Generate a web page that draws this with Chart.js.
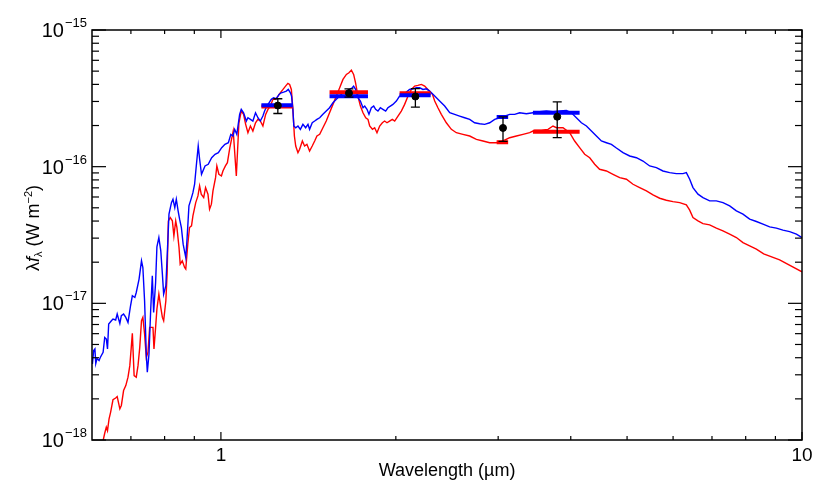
<!DOCTYPE html>
<html lang="en">
<head>
    <meta charset="UTF-8">
    <title>Spectral energy distribution</title>
    <script src="https://cdn.jsdelivr.net/npm/chart.js"></script>
    <style>
        body {
            margin: 0;
            background-color: white;
        }
        #wrap {
            width: 830px;
            height: 499px;
        }
    </style>
</head>
<body>
    <div id="wrap"><canvas id="sedChart" width="830" height="499"></canvas></div>

    <script>
        // model spectra: wavelength in um, flux in units of 1e-16 W m^-2
        const blueLam = [
            0.600,0.601,0.604,0.607,0.609,0.612,0.617,0.620,0.627,0.631,
            0.635,0.638,0.641,0.648,0.652,0.659,0.663,0.670,0.674,0.680,
            0.686,0.692,0.699,0.704,0.711,0.715,0.723,0.730,0.734,0.739,
            0.744,0.747,0.752,0.757,0.762,0.766,0.772,0.776,0.782,0.788,
            0.793,0.797,0.804,0.808,0.814,0.822,0.827,0.833,0.838,0.844,
            0.849,0.855,0.861,0.870,0.874,0.881,0.890,0.895,0.901,0.907,
            0.914,0.919,0.926,0.939,0.951,0.964,0.977,0.990,1.003,1.016,
            1.030,1.040,1.049,1.056,1.065,1.077,1.084,1.094,1.106,1.113,
            1.124,1.135,1.147,1.158,1.169,1.181,1.189,1.200,1.210,1.221,
            1.232,1.245,1.259,1.270,1.282,1.296,1.306,1.317,1.323,1.330,
            1.335,1.345,1.357,1.370,1.384,1.399,1.412,1.421,1.436,1.450,
            1.463,1.479,1.498,1.518,1.538,1.559,1.580,1.601,1.622,1.644,
            1.665,1.683,1.692,1.705,1.721,1.738,1.756,1.768,1.784,1.798,
            1.815,1.832,1.846,1.863,1.881,1.900,1.921,1.938,1.957,1.977,
            2.004,2.030,2.057,2.085,2.112,2.140,2.169,2.198,2.227,2.257,
            2.287,2.333,2.379,2.427,2.476,2.525,2.575,2.627,2.680,2.733,
            2.788,2.844,2.901,2.959,3.018,3.078,3.140,3.203,3.267,3.355,
            3.443,3.535,3.632,3.728,3.828,3.931,4.010,4.090,4.172,4.256,
            4.341,4.428,4.516,4.607,4.699,4.793,4.920,5.052,5.188,5.325,
            5.468,5.615,5.764,5.919,6.078,6.239,6.324,6.408,6.492,6.622,
            6.754,6.936,7.122,7.311,7.508,7.710,7.914,8.127,8.346,8.567,
            8.797,9.034,9.273,9.522,9.781,10.0
        ];
        const blueFlux = [
            0.0401,0.0360,0.0451,0.0464,0.0362,0.0394,0.0381,0.0402,0.0438,0.0563,
            0.0548,0.0464,0.0706,0.0746,0.0768,0.0755,0.0835,0.0713,0.0812,0.0835,
            0.0789,0.0725,0.0960,0.1136,0.1104,0.1201,0.1505,0.2048,0.1829,0.1045,
            0.0426,0.0313,0.0426,0.0883,0.1591,0.0858,0.1421,0.2591,0.3030,0.2422,
            0.1637,0.1169,0.1345,0.2164,0.4490,0.5458,0.5779,0.5018,0.5779,0.4747,
            0.4128,0.3584,0.2711,0.2164,0.2866,0.5164,0.5936,0.6456,0.7435,1.012,
            1.416,1.138,0.880,1.012,1.041,1.163,1.232,1.266,1.377,1.457,
            1.497,1.724,1.676,1.876,1.724,2.414,2.627,2.480,2.157,2.280,
            2.220,2.157,2.480,2.280,2.157,2.346,2.552,2.776,2.934,3.108,
            3.192,3.139,3.380,3.471,3.513,3.573,3.676,3.471,3.284,2.627,
            1.983,1.927,1.983,1.876,2.040,1.927,2.040,1.876,2.096,2.157,
            2.220,2.280,2.414,2.552,2.698,2.934,3.108,3.284,3.471,3.573,
            3.676,3.776,3.885,3.676,3.192,3.019,2.698,2.776,2.627,2.414,
            2.698,2.776,2.627,2.552,2.698,2.627,2.552,2.698,2.776,2.856,
            3.019,3.284,3.380,3.513,3.676,3.713,3.776,3.776,3.676,3.713,
            3.573,3.284,3.019,2.776,2.480,2.414,2.346,2.280,2.220,2.096,
            2.061,2.040,2.096,2.220,2.280,2.346,2.414,2.414,2.480,2.438,
            2.480,2.522,2.552,2.522,2.552,2.582,2.480,2.280,2.096,1.983,
            1.823,1.676,1.541,1.497,1.457,1.369,1.266,1.197,1.163,1.100,
            1.012,0.983,0.930,0.904,0.889,0.889,0.904,0.809,0.703,0.629,
            0.594,0.562,0.562,0.546,0.516,0.475,0.449,0.413,0.397,0.380,
            0.363,0.355,0.343,0.335,0.321,0.303
        ];
        const redLam = [
            0.620,0.627,0.631,0.635,0.638,0.642,0.646,0.652,0.659,0.663,
            0.670,0.674,0.680,0.686,0.692,0.697,0.701,0.704,0.709,0.715,
            0.720,0.725,0.730,0.734,0.739,0.744,0.749,0.754,0.759,0.764,
            0.767,0.772,0.776,0.782,0.788,0.793,0.797,0.804,0.808,0.812,
            0.818,0.825,0.830,0.836,0.840,0.847,0.851,0.858,0.866,0.870,
            0.877,0.883,0.890,0.895,0.905,0.913,0.919,0.925,0.934,0.941,
            0.950,0.956,0.963,0.969,0.979,0.984,0.992,1.002,1.008,1.018,
            1.026,1.036,1.050,1.063,1.074,1.084,1.094,1.103,1.113,1.124,
            1.135,1.147,1.158,1.169,1.181,1.194,1.205,1.216,1.229,1.242,
            1.254,1.265,1.279,1.292,1.304,1.313,1.322,1.330,1.338,1.345,
            1.357,1.366,1.381,1.393,1.406,1.421,1.436,1.450,1.463,1.479,
            1.498,1.518,1.538,1.559,1.580,1.601,1.622,1.644,1.661,1.677,
            1.692,1.705,1.721,1.738,1.756,1.775,1.791,1.803,1.823,1.839,
            1.856,1.876,1.896,1.913,1.931,1.951,1.972,1.991,2.017,2.044,
            2.071,2.099,2.127,2.155,2.183,2.213,2.242,2.271,2.312,2.333,
            2.363,2.395,2.443,2.492,2.542,2.609,2.680,2.752,2.825,2.901,
            2.979,3.057,3.140,3.225,3.310,3.399,3.466,3.560,3.655,3.728,
            3.779,3.879,3.983,4.062,4.143,4.227,4.312,4.398,4.484,4.607,
            4.729,4.856,4.987,5.119,5.256,5.398,5.541,5.690,5.842,5.997,
            6.159,6.324,6.408,6.492,6.622,6.754,6.936,7.122,7.311,7.508,
            7.710,7.914,8.127,8.346,8.591,9.152,10.0
        ];
        const redFlux = [
            0.0085,0.0099,0.0112,0.0124,0.0117,0.0143,0.0160,0.0197,0.0203,0.0208,
            0.0169,0.0179,0.0230,0.0250,0.0288,0.0350,0.0476,0.0603,0.0296,0.0288,
            0.0350,0.0476,0.0746,0.0789,0.0597,0.0402,0.0438,0.0667,0.0667,0.0667,
            0.0464,0.0667,0.0909,0.1169,0.0933,0.0789,0.0746,0.1045,0.1637,0.4013,
            0.4242,0.4013,0.3118,0.4013,0.3584,0.2561,0.1937,0.2048,0.1829,0.1780,
            0.2711,0.3584,0.3688,0.4364,0.5458,0.6109,0.7228,0.629,0.594,0.703,
            0.629,0.4885,0.5314,0.6645,0.8312,1.012,0.880,0.855,0.930,1.012,
            1.070,1.377,1.823,0.855,2.096,2.552,2.414,2.040,1.772,1.983,
            1.823,2.096,2.220,2.157,1.983,2.414,2.627,2.776,3.108,3.108,
            3.284,3.471,3.676,3.885,4.067,3.999,3.676,2.627,1.676,1.416,
            1.266,1.340,1.541,1.416,1.457,1.302,1.416,1.541,1.676,1.724,
            1.927,2.157,2.480,2.856,3.284,3.776,4.349,4.732,4.860,5.086,
            4.732,4.108,3.284,2.776,2.480,2.280,2.220,1.983,1.876,1.927,
            1.772,1.983,2.096,2.157,2.096,2.157,2.220,2.157,2.346,2.552,
            2.856,3.284,3.676,3.885,3.931,3.999,3.885,3.676,3.380,3.019,
            2.698,2.414,2.096,1.876,1.772,1.724,1.676,1.585,1.541,1.497,
            1.497,1.541,1.629,1.676,1.724,1.772,1.845,1.845,1.876,1.983,
            1.927,1.927,1.772,1.541,1.377,1.232,1.163,1.041,0.957,0.930,
            0.880,0.831,0.809,0.7435,0.703,0.6645,0.6215,0.5876,0.5682,0.5550,
            0.5458,0.5252,0.4804,0.4242,0.4013,0.3834,0.3751,0.3548,0.3391,0.3208,
            0.303,0.2785,0.2634,0.2492,0.2303,0.2082,0.1702
        ];

        // synthetic photometry over each filter (1e-16 W m^-2)
        const bandLo = [1.174, 1.538, 2.030, 2.982, 3.443];
        const bandHi = [1.330, 1.791, 2.296, 3.121, 4.143];
        const bandBlue = [2.81, 3.28, 3.33, 2.31, 2.48];
        const bandRed = [2.75, 3.51, 3.44, 1.51, 1.80];

        // observed photometry with error bars (1e-16 W m^-2)
        const obsLam = [1.253, 1.661, 2.161, 3.058, 3.791];
        const obsFlux = [2.80, 3.45, 3.26, 1.92, 2.32];
        const obsLo = [2.45, 3.23, 2.73, 1.53, 1.63];
        const obsHi = [3.14, 3.71, 3.73, 2.31, 2.98];

        // axis ticks
        const xTicks = [1, 10];
        const xTickLabels = ['1', '10'];
        const xMinor = [0.7, 0.8, 0.9, 2, 3, 4, 5, 6, 7, 8, 9];
        const yTicks = [1e-18, 1e-17, 1e-16, 1e-15];
        const yTickExp = ['\u221218', '\u221217', '\u221216', '\u221215'];
        const yMantissa = [2, 3, 4, 5, 6, 7, 8, 9];

        const UNIT = 1e-16;
        const FONT = '"Liberation Sans", Arial, sans-serif';

        function spectrum(lam, flux) {
            return lam.map((l, i) => ({ x: l, y: flux[i] * UNIT }));
        }

        function bands(vals) {
            const pts = [];
            bandLo.forEach((lo, i) => {
                pts.push({ x: lo, y: vals[i] * UNIT });
                pts.push({ x: bandHi[i], y: vals[i] * UNIT });
                pts.push({ x: bandHi[i], y: null });
            });
            return pts;
        }

        const obsPoints = obsLam.map((l, i) => ({ x: l, y: obsFlux[i] * UNIT }));

        // error bars, drawn through the scales
        const errorBars = {
            id: 'errorBars',
            afterDatasetsDraw(chart) {
                const { ctx, scales: { x, y } } = chart;
                ctx.save();
                ctx.strokeStyle = '#000';
                ctx.lineWidth = 1.3;
                obsLam.forEach((l, i) => {
                    const px = x.getPixelForValue(l);
                    const top = y.getPixelForValue(obsHi[i] * UNIT);
                    const bot = y.getPixelForValue(obsLo[i] * UNIT);
                    ctx.beginPath();
                    ctx.moveTo(px, top); ctx.lineTo(px, bot);
                    ctx.moveTo(px - 4.5, top); ctx.lineTo(px + 4.5, top);
                    ctx.moveTo(px - 4.5, bot); ctx.lineTo(px + 4.5, bot);
                    ctx.stroke();
                });
                ctx.restore();
            }
        };

        // IDL-style box with inward ticks and labels
        const axesBox = {
            id: 'axesBox',
            afterDraw(chart) {
                const { ctx, chartArea: a, scales: { x, y } } = chart;
                ctx.save();
                ctx.strokeStyle = '#000';
                ctx.lineWidth = 1.2;
                const seg = (x1, y1, x2, y2) => {
                    ctx.beginPath(); ctx.moveTo(x1, y1); ctx.lineTo(x2, y2); ctx.stroke();
                };

                xTicks.forEach(v => {
                    const px = x.getPixelForValue(v);
                    seg(px, a.bottom, px, a.bottom - 8);
                    seg(px, a.top, px, a.top + 8);
                });
                xMinor.forEach(v => {
                    const px = x.getPixelForValue(v);
                    seg(px, a.bottom, px, a.bottom - 4);
                    seg(px, a.top, px, a.top + 4);
                });
                yTicks.forEach(v => {
                    const py = y.getPixelForValue(v);
                    seg(a.left, py, a.left + 14, py);
                    seg(a.right, py, a.right - 14, py);
                });
                yTicks.slice(0, 3).forEach(v => {
                    yMantissa.forEach(m => {
                        const py = y.getPixelForValue(v * m);
                        seg(a.left, py, a.left + 7, py);
                        seg(a.right, py, a.right - 7, py);
                    });
                });

                ctx.lineWidth = 1.5;
                ctx.strokeRect(a.left, a.top, a.right - a.left, a.bottom - a.top);

                ctx.fillStyle = '#000';
                // x tick labels
                ctx.font = '19px ' + FONT;
                ctx.textAlign = 'center';
                ctx.textBaseline = 'alphabetic';
                xTicks.forEach((v, i) => {
                    ctx.fillText(xTickLabels[i], x.getPixelForValue(v), a.bottom + 21);
                });

                // y tick labels 10^n
                yTicks.forEach((v, i) => {
                    const py = y.getPixelForValue(v);
                    ctx.font = '13px ' + FONT;
                    const we = ctx.measureText(yTickExp[i]).width;
                    ctx.textAlign = 'left';
                    ctx.fillText(yTickExp[i], a.left - 5 - we, py - 3);
                    ctx.font = '20px ' + FONT;
                    ctx.textAlign = 'right';
                    ctx.fillText('10', a.left - 6 - we, py + 7);
                });

                // x title
                ctx.font = '18px ' + FONT;
                ctx.textAlign = 'center';
                ctx.fillText('Wavelength (\u00b5m)', (a.left + a.right) / 2, a.bottom + 36);

                // y title: lambda f_lambda (W m^-2)
                const parts = [
                    { t: '\u03bb', f: '18px ' + FONT, dy: 0 },
                    { t: 'f', f: 'italic 18px ' + FONT, dy: 0 },
                    { t: '\u03bb', f: '11px ' + FONT, dy: 3 },
                    { t: ' (W m', f: '18px ' + FONT, dy: 0 },
                    { t: '\u22122', f: '11px ' + FONT, dy: -7 },
                    { t: ')', f: '18px ' + FONT, dy: 0 }
                ];
                let total = 0;
                parts.forEach(p => { ctx.font = p.f; p.w = ctx.measureText(p.t).width; total += p.w; });
                ctx.translate(39, 228);
                ctx.rotate(-Math.PI / 2);
                ctx.textAlign = 'left';
                let cx = -total / 2;
                parts.forEach(p => {
                    ctx.font = p.f;
                    ctx.fillText(p.t, cx, p.dy);
                    cx += p.w;
                });
                ctx.restore();
            }
        };

        const ctx = document.getElementById('sedChart').getContext('2d');
        const sedChart = new Chart(ctx, {
            type: 'line',
            data: {
                datasets: [
                    {
                        label: 'Observed',
                        type: 'scatter',
                        data: obsPoints,
                        pointRadius: 3.5,
                        pointBackgroundColor: '#000',
                        pointBorderColor: '#000',
                        showLine: false
                    },
                    {
                        label: 'Blue bands',
                        data: bands(bandBlue),
                        borderColor: '#0000ff',
                        borderWidth: 4,
                        borderCapStyle: 'butt',
                        pointRadius: 0,
                        spanGaps: false
                    },
                    {
                        label: 'Red bands',
                        data: bands(bandRed),
                        borderColor: '#ff0000',
                        borderWidth: 4,
                        borderCapStyle: 'butt',
                        pointRadius: 0,
                        spanGaps: false
                    },
                    {
                        label: 'Blue model',
                        data: spectrum(blueLam, blueFlux),
                        borderColor: '#0000ff',
                        borderWidth: 1.4,
                        pointRadius: 0,
                        tension: 0
                    },
                    {
                        label: 'Red model',
                        data: spectrum(redLam, redFlux),
                        borderColor: '#ff0000',
                        borderWidth: 1.4,
                        pointRadius: 0,
                        tension: 0
                    }
                ]
            },
            options: {
                responsive: false,
                animation: false,
                layout: { padding: { left: 92, right: 28, top: 30, bottom: 59 } },
                scales: {
                    x: { type: 'logarithmic', min: 0.6, max: 10, display: false },
                    y: { type: 'logarithmic', min: 1e-18, max: 1e-15, display: false }
                },
                plugins: {
                    legend: { display: false },
                    tooltip: { enabled: false }
                }
            },
            plugins: [errorBars, axesBox]
        });
    </script>
</body>
</html>
